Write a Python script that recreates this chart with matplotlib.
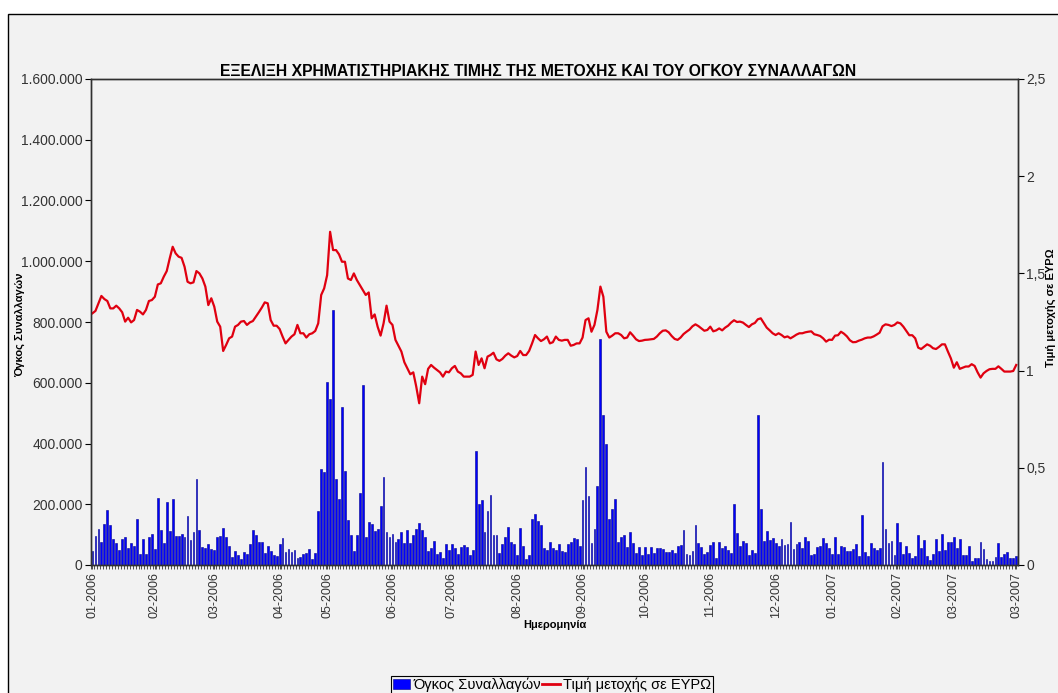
import numpy as np
import matplotlib.pyplot as plt
from matplotlib.patches import Rectangle, Patch
from matplotlib.lines import Line2D
from matplotlib.ticker import FuncFormatter, FixedLocator

plt.rcParams['font.family'] = ['Liberation Sans', 'DejaVu Sans']

# daily volume (thousands of shares), one list per month
vol_2006_01 = [47, 96, 118, 77, 135, 181, 132, 86, 71, 49, 85, 93, 55, 71, 63, 152, 35, 85, 35, 91, 102]
vol_2006_02 = [52, 220, 115, 71, 207, 112, 217, 96, 96, 102, 93, 160, 82, 107, 282, 115, 58, 55, 69, 53]
vol_2006_03 = [49, 91, 96, 123, 91, 63, 27, 47, 33, 19, 44, 36, 69, 115, 99, 75, 75, 38, 63, 47, 33, 30]
vol_2006_04 = [69, 90, 44, 52, 44, 49, 22, 26, 36, 38, 53, 19, 41, 177, 315, 305]
vol_2006_05 = [604, 545, 840, 282, 217, 519, 308, 148, 98, 47, 98, 236, 591, 93, 141, 134, 112, 118, 195, 290, 107, 93]
vol_2006_06 = [102, 75, 86, 109, 71, 115, 71, 99, 118, 137, 115, 91, 47, 55, 80, 35, 44, 24, 69, 49]
vol_2006_07 = [69, 57, 36, 60, 66, 58, 33, 49, 376, 201, 214, 110, 179, 229, 99, 99, 41, 69, 91, 126, 75, 68]
vol_2006_08 = [33, 123, 63, 19, 33, 152, 168, 146, 132, 55, 49, 77, 55, 49, 68, 46, 44, 68, 75, 88, 85, 63]
vol_2006_09 = [214, 322, 228, 71, 120, 260, 744, 495, 399, 152, 184, 216, 77, 93, 99, 60, 108, 74, 38, 58, 33]
vol_2006_10 = [60, 36, 60, 39, 55, 57, 52, 42, 42, 49, 41, 63, 66, 115, 36, 33, 47, 132, 71, 60, 37, 42]
vol_2006_11 = [66, 77, 24, 77, 57, 63, 49, 41, 202, 104, 64, 80, 71, 33, 49, 41, 495, 185, 80, 112, 82, 88]
vol_2006_12 = [71, 63, 86, 66, 68, 140, 52, 68, 75, 57, 93, 80, 33, 35, 60, 63, 88, 71, 55]
vol_2007_01 = [35, 91, 36, 63, 59, 46, 46, 53, 68, 31, 165, 42, 30, 71, 57, 49, 57, 338, 118, 71, 79, 32]
vol_2007_02 = [137, 77, 35, 64, 38, 24, 30, 99, 57, 82, 30, 16, 35, 85, 47, 101, 49, 75, 77]
vol_2007_03 = [93, 57, 85, 33, 33, 64, 14, 24, 24, 77, 52, 19, 14, 14, 27, 74, 27, 36, 42, 24, 24, 31]

months = [vol_2006_01, vol_2006_02, vol_2006_03, vol_2006_04, vol_2006_05, vol_2006_06,
          vol_2006_07, vol_2006_08, vol_2006_09, vol_2006_10, vol_2006_11, vol_2006_12,
          vol_2007_01, vol_2007_02, vol_2007_03]
month_labels = ['01-2006', '02-2006', '03-2006', '04-2006', '05-2006', '06-2006', '07-2006',
                '08-2006', '09-2006', '10-2006', '11-2006', '12-2006', '01-2007', '02-2007',
                '03-2007', '03-2007']

# daily closing price (EUR)
price_a = [1.295, 1.307, 1.346, 1.384, 1.368, 1.358, 1.320, 1.320, 1.334, 1.320,
           1.300, 1.252, 1.272, 1.248, 1.260, 1.312, 1.303, 1.289, 1.312, 1.358,
           1.363, 1.380, 1.443, 1.449, 1.483, 1.512, 1.577, 1.637, 1.603, 1.586,
           1.580, 1.534, 1.457, 1.449, 1.454, 1.512, 1.500, 1.474, 1.432, 1.337,
           1.372, 1.329, 1.252, 1.226, 1.101, 1.132, 1.166, 1.175, 1.226, 1.235,
           1.252, 1.255, 1.235, 1.248, 1.255, 1.277, 1.300, 1.324, 1.351, 1.346,
           1.260, 1.231]
price_b = [1.231, 1.214, 1.175, 1.140, 1.158, 1.175, 1.187, 1.235, 1.192, 1.192,
           1.170, 1.187, 1.192, 1.204, 1.243, 1.389, 1.423, 1.491, 1.714, 1.620,
           1.620, 1.598, 1.560, 1.560, 1.474, 1.466, 1.500, 1.466, 1.440, 1.414,
           1.389, 1.402, 1.269, 1.289, 1.226, 1.180, 1.243, 1.334, 1.252, 1.235,
           1.158, 1.128, 1.098, 1.043, 1.012, 0.981, 0.991, 0.918, 0.832, 0.969,
           0.930, 1.009, 1.029, 1.015, 1.003, 0.991, 0.969, 0.995, 0.991, 1.012,
           1.024, 0.995, 0.986]
price_c = [0.969, 0.969, 0.969, 0.978, 1.098, 1.029, 1.063, 1.012, 1.072, 1.080,
           1.092, 1.058, 1.050, 1.060, 1.077, 1.089, 1.077, 1.068, 1.075, 1.101,
           1.080, 1.080, 1.101, 1.140, 1.183, 1.166, 1.152, 1.161, 1.175, 1.140,
           1.146, 1.175, 1.158, 1.154, 1.158, 1.158, 1.128, 1.132, 1.140, 1.140,
           1.170, 1.260, 1.269, 1.200, 1.235, 1.312, 1.432, 1.380, 1.200, 1.170,
           1.180, 1.192, 1.192, 1.183, 1.166, 1.170, 1.197, 1.180, 1.161, 1.152,
           1.154, 1.158]
price_d = [1.159, 1.161, 1.163, 1.175, 1.192, 1.205, 1.207, 1.197, 1.178, 1.163,
           1.158, 1.170, 1.188, 1.200, 1.211, 1.228, 1.238, 1.229, 1.217, 1.205,
           1.209, 1.226, 1.202, 1.207, 1.217, 1.207, 1.221, 1.231, 1.247, 1.259,
           1.250, 1.252, 1.247, 1.235, 1.224, 1.238, 1.245, 1.264, 1.269, 1.245,
           1.221, 1.207, 1.192, 1.183, 1.192, 1.183, 1.171, 1.176, 1.166, 1.175,
           1.185, 1.192, 1.192, 1.197, 1.200, 1.202, 1.187, 1.183, 1.178, 1.166,
           1.149, 1.159]
price_e = [1.158, 1.180, 1.182, 1.200, 1.190, 1.176, 1.156, 1.146, 1.147, 1.154,
           1.159, 1.166, 1.170, 1.170, 1.176, 1.185, 1.195, 1.228, 1.238, 1.235,
           1.229, 1.235, 1.248, 1.243, 1.226, 1.204, 1.182, 1.182, 1.166, 1.118,
           1.111, 1.123, 1.135, 1.128, 1.115, 1.111, 1.122, 1.135, 1.135, 1.098,
           1.063, 1.015, 1.043, 1.009, 1.015, 1.021, 1.021, 1.033, 1.024, 0.991,
           0.964, 0.986, 0.998, 1.007, 1.009, 1.009, 1.022, 1.009, 0.995, 0.995,
           0.995, 0.998, 1.029]

volume = np.array([v for m in months for v in m]) * 1000
price = np.array(price_a + price_b + price_c + price_d + price_e)
x = np.arange(len(volume))

starts = np.concatenate([[0], np.cumsum([len(m) for m in months])[:-1]])
tick_pos = list(starts) + [len(volume) - 1]

W, H = 1058, 693
fig = plt.figure(figsize=(W / 100, H / 100), dpi=100)
fig.patch.set_facecolor('white')
fig.add_artist(Rectangle((8 / W, -0.05), 1.2, 1 - 14 / H + 0.05, transform=fig.transFigure,
                         facecolor='#f2f2f2', edgecolor='black', lw=1.0, zorder=-10))

ax = fig.add_axes([91 / W, 1 - 565 / H, 927 / W, 486 / H])
ax.set_facecolor('#f2f2f2')
ax.bar(x, volume, width=0.62, color='#0000ff', edgecolor='#00008b', linewidth=0.4)
ax.set_xlim(-0.45, len(volume) - 0.4)
ax.set_ylim(0, 1600000)
ax.yaxis.set_major_locator(FixedLocator(np.arange(0, 1600001, 200000)))
ax.yaxis.set_major_formatter(FuncFormatter(lambda v, p: f'{int(v):,}'.replace(',', '.')))
ax.set_xticks(tick_pos)
ax.set_xticklabels(month_labels, rotation=90, fontsize=9, color='#333333')
ax.set_xticks(x - 0.5, minor=True)
ax.tick_params(axis='x', which='minor', length=3, width=0.6, color='#333333')
ax.tick_params(axis='x', which='major', length=3, width=0.6, color='#333333', pad=2)
ax.tick_params(axis='y', labelsize=10, labelcolor='#333333', length=4, width=0.8, pad=2)

ax2 = ax.twinx()
ax2.plot(x, price, color='#e00010', lw=1.6)
ax2.set_ylim(0, 2.5)
ax2.yaxis.set_major_locator(FixedLocator([0, 0.5, 1, 1.5, 2, 2.5]))
ax2.yaxis.set_major_formatter(FuncFormatter(lambda v, p: f'{v:g}'.replace('.', ',')))
ax2.tick_params(axis='y', labelsize=10, labelcolor='#333333', length=4, width=0.8, pad=2)

for a in (ax, ax2):
    for s in a.spines.values():
        s.set_color('#303030')
        s.set_linewidth(1.0)

fig.text(538 / W, 1 - 72 / H, 'ΕΞΕΛΙΞΗ ΧΡΗΜΑΤΙΣΤΗΡΙΑΚΗΣ ΤΙΜΗΣ ΤΗΣ ΜΕΤΟΧΗΣ ΚΑΙ ΤΟΥ ΟΓΚΟΥ ΣΥΝΑΛΛΑΓΩΝ',
         ha='center', va='center', fontsize=11.3, fontweight='bold')
fig.text(20 / W, 1 - 325 / H, 'Όγκος Συναλλαγών', rotation=90, ha='center', va='center',
         fontsize=8, fontweight='bold')
fig.text(1051 / W, 1 - 308 / H, 'Τιμή μετοχής σε ΕΥΡΩ', rotation=90, ha='center', va='center',
         fontsize=8, fontweight='bold')
fig.text(555 / W, 1 - 625 / H, 'Ημερομηνία', ha='center', va='center',
         fontsize=8, fontweight='bold')

handles = [Patch(facecolor='#0000ff', edgecolor='#00008b', lw=0.4),
           Line2D([0], [0], color='#e00010', lw=2)]
leg = fig.legend(handles, ['Όγκος Συναλλαγών', 'Τιμή μετοχής σε ΕΥΡΩ'], loc='center',
                 bbox_to_anchor=(552 / W, 1 - 685 / H), ncol=2, fontsize=10.5,
                 handlelength=1.2, handleheight=0.6, handletextpad=0.2, columnspacing=0.1,
                 borderpad=0.15, borderaxespad=0, fancybox=False, edgecolor='black',
                 facecolor='#f2f2f2', framealpha=1)
leg.get_frame().set_linewidth(0.8)

fig.savefig('out.png', dpi=100)
